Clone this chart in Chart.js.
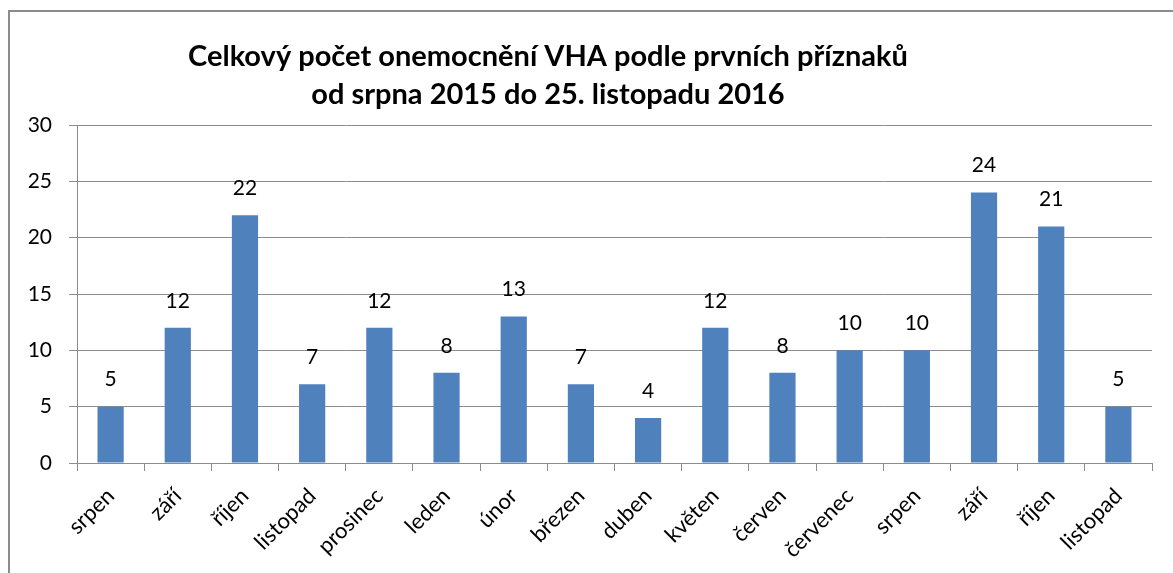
<!DOCTYPE html>
<html>
<head>
<meta charset="utf-8">
<script src="https://cdn.jsdelivr.net/npm/chart.js@4.4.0/dist/chart.umd.min.js"></script>
<style>
    body { margin: 0; background: #fff; }
    #frame { position: absolute; left: 8px; top: 10px; width: 1200px; height: 600px;
             border-left: 2px solid #8c8c8c; border-top: 2px solid #8c8c8c; }
    #wrap { position: absolute; left: 0; top: 0; width: 1173px; height: 573px; }
</style>
</head>
<body>
<div id="frame"></div>
<div id="wrap"><canvas id="chart1"></canvas></div>
<script>
var labelsChart1 = ['srpen', 'září', 'říjen', 'listopad', 'prosinec', 'leden', 'únor', 'březen',
    'duben', 'květen', 'červen', 'červenec', 'srpen', 'září', 'říjen', 'listopad']

var valuesChart1 = [5, 12, 22, 7, 12, 8, 13, 7, 4, 12, 8, 10, 10, 24, 21, 5]

var titleLines = ['Celkový počet onemocnění VHA podle prvních příznaků', 'od srpna 2015 do 25. listopadu 2016']

var font = 'Lato'

// value labels above the bars
var barLabels = {
    id: 'barLabels',
    afterDatasetsDraw: function(chart) {
        var ctx = chart.ctx
        var meta = chart.getDatasetMeta(0)
        ctx.save()
        ctx.font = '21px ' + font
        ctx.fillStyle = '#000'
        ctx.textAlign = 'center'
        ctx.textBaseline = 'middle'
        meta.data.forEach(function(bar, i) {
            ctx.fillText(chart.data.datasets[0].data[i], bar.x, bar.y - 27)
        })
        ctx.restore()
    }
}

var titleText = {
    id: 'titleText',
    afterDraw: function(chart) {
        var ctx = chart.ctx
        ctx.save()
        ctx.font = 'bold 29px ' + font
        ctx.fillStyle = '#000'
        ctx.textAlign = 'center'
        ctx.textBaseline = 'middle'
        ctx.fillText(titleLines[0], 548, 57)
        ctx.fillText(titleLines[1], 548, 95)
        ctx.restore()
    }
}

var dataChart1 = {
    labels: labelsChart1,
    datasets: [{
        label: 'Počet onemocnění',
        backgroundColor: '#4f81bd',
        data: valuesChart1,
        barPercentage: 0.39,
        categoryPercentage: 1
    }]
}

var configChart1 = {
    type: 'bar',
    data: dataChart1,
    plugins: [barLabels, titleText],
    options: {
        responsive: true,
        maintainAspectRatio: false,
        animation: false,
        layout: {
            padding: { top: 125, right: 21, left: 0, bottom: 0 }
        },
        scales: {
            y: {
                min: 0,
                max: 30,
                ticks: {
                    stepSize: 5,
                    color: '#000',
                    padding: 17,
                    font: { family: font, size: 21 }
                },
                grid: { color: '#8c8c8c', tickLength: 8 },
                border: { color: '#8c8c8c' },
                afterFit: function(scale) { scale.width = 77 }
            },
            x: {
                ticks: {
                    color: '#000',
                    maxRotation: 45,
                    minRotation: 45,
                    padding: 12,
                    font: { family: font, size: 22 }
                },
                grid: { offset: true, drawOnChartArea: false, color: '#8c8c8c', tickLength: 8 },
                border: { color: '#8c8c8c' },
                afterFit: function(scale) { scale.height = 110 }
            }
        },
        plugins: {
            legend: { display: false },
            tooltip: { enabled: false }
        }
    }
};

var chart1 = new Chart(
    document.getElementById('chart1'),
    configChart1
);
</script>
</body>
</html>
